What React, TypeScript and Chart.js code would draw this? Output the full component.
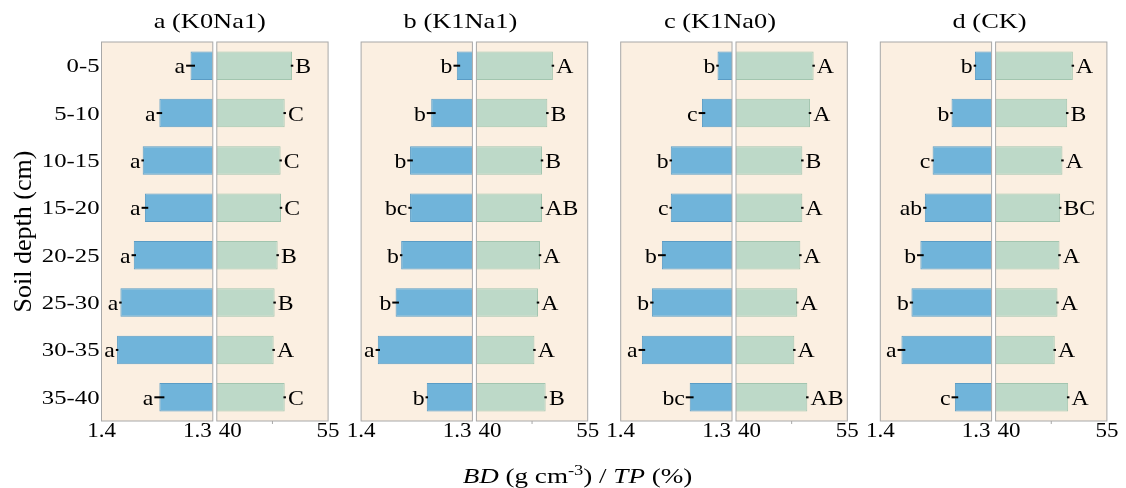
import React, { useEffect, useRef } from "react";
import { Chart, registerables } from "chart.js";

Chart.register(...registerables);

// ---------------- data ----------------
const depths = ["0-5", "5-10", "10-15", "15-20", "20-25", "25-30", "30-35", "35-40"];
const panelKeys = ["a", "b", "c", "d"];
const panelTitles = ["a (K0Na1)", "b (K1Na1)", "c (K1Na0)", "d (CK)"];

// Bulk density (g cm-3)
const bdA = [1.320, 1.348, 1.363, 1.361, 1.371, 1.383, 1.386, 1.348];
const bdB = [1.314, 1.337, 1.356, 1.356, 1.364, 1.369, 1.385, 1.341];
const bdC = [1.313, 1.327, 1.355, 1.355, 1.363, 1.372, 1.381, 1.338];
const bdD = [1.315, 1.336, 1.353, 1.360, 1.364, 1.372, 1.381, 1.333];
const bdSdA = [0.004, 0.0025, 0.001, 0.003, 0.002, 0.001, 0.001, 0.0045];
const bdSdB = [0.003, 0.004, 0.0025, 0.0015, 0.001, 0.003, 0.002, 0.001];
const bdSdC = [0.001, 0.003, 0.001, 0.001, 0.0035, 0.0015, 0.003, 0.0035];
const bdSdD = [0.001, 0.001, 0.001, 0.0015, 0.003, 0.0015, 0.0035, 0.003];
const bdLetA = ["a", "a", "a", "a", "a", "a", "a", "a"];
const bdLetB = ["b", "b", "b", "bc", "b", "b", "a", "b"];
const bdLetC = ["b", "c", "b", "c", "b", "b", "a", "bc"];
const bdLetD = ["b", "b", "c", "ab", "b", "b", "a", "c"];

// Total porosity (%)
const tpA = [50.14, 49.15, 48.60, 48.65, 48.20, 47.79, 47.66, 49.15];
const tpB = [50.31, 49.56, 48.84, 48.84, 48.57, 48.30, 47.82, 49.33];
const tpC = [50.46, 49.97, 48.94, 48.94, 48.67, 48.26, 47.86, 49.61];
const tpD = [50.41, 49.65, 49.01, 48.70, 48.61, 48.34, 47.97, 49.78];
const tpSdA = [0.10, 0.10, 0.08, 0.08, 0.10, 0.08, 0.08, 0.10];
const tpSdB = [0.08, 0.10, 0.08, 0.08, 0.08, 0.10, 0.08, 0.08];
const tpSdC = [0.08, 0.10, 0.08, 0.08, 0.08, 0.08, 0.08, 0.10];
const tpSdD = [0.08, 0.08, 0.08, 0.08, 0.08, 0.08, 0.08, 0.08];
const tpLetA = ["B", "C", "C", "C", "B", "B", "A", "C"];
const tpLetB = ["A", "B", "B", "AB", "A", "A", "A", "B"];
const tpLetC = ["A", "A", "B", "A", "A", "A", "A", "AB"];
const tpLetD = ["A", "B", "A", "BC", "A", "A", "A", "A"];

// axes
const bdRange = [1.3, 1.4];
const tpRange = [40, 55];
const bdTicks = [1.4, 1.3];
const tpTicks = [40, 55];
const tpMinorTicks = [47.5];

const bdSeries = [bdA, bdB, bdC, bdD];
const bdSds = [bdSdA, bdSdB, bdSdC, bdSdD];
const bdLets = [bdLetA, bdLetB, bdLetC, bdLetD];
const tpSeries = [tpA, tpB, tpC, tpD];
const tpSds = [tpSdA, tpSdB, tpSdC, tpSdD];
const tpLets = [tpLetA, tpLetB, tpLetC, tpLetD];

// ---------------- style ----------------
const W = 1126;
const H = 488;
const SERIF = "'Liberation Serif', 'Times New Roman', serif";
const BD_FILL = "#70B4DA";
const BD_EDGE = "#5A9CC5";
const TP_FILL = "#BDD9C8";
const TP_EDGE = "#A2C5AF";
const PANEL_BG = "#FBEFE1";
const PANEL_EDGE = "#A8A8A8";
const SUB_W = 111.3;
const INNER_GAP = 4;
const OUTER_GAP = 33;
const TITLE_SHIFT = [-5, -14, -14, -4];

function txt(ctx: CanvasRenderingContext2D, s: string, x: number, y: number, align: CanvasTextAlign, font: string, sx: number) {
  ctx.save();
  ctx.font = font;
  ctx.textAlign = align;
  ctx.textBaseline = "alphabetic";
  ctx.fillStyle = "#000";
  ctx.translate(x, y);
  ctx.scale(sx, 1);
  ctx.fillText(s, 0, 0);
  ctx.restore();
}

const decorPlugin = {
  id: "decor",
  beforeDatasetsDraw(chart: any) {
    const { ctx, chartArea } = chart;
    ctx.save();
    ctx.fillStyle = PANEL_BG;
    panelKeys.forEach((k) => {
      ["bd" + k, "tp" + k].forEach((id) => {
        const s = chart.scales[id];
        ctx.fillRect(s.left, chartArea.top, s.right - s.left, chartArea.bottom - chartArea.top);
      });
    });
    ctx.restore();
  },
  afterDatasetsDraw(chart: any) {
    const { ctx, chartArea } = chart;
    const { top, bottom, left } = chartArea;
    const yS = chart.scales.y;
    ctx.save();
    // panel borders
    ctx.strokeStyle = PANEL_EDGE;
    ctx.lineWidth = 1;
    panelKeys.forEach((k) => {
      ["bd" + k, "tp" + k].forEach((id) => {
        const s = chart.scales[id];
        ctx.strokeRect(s.left, top, s.right - s.left, bottom - top);
      });
      const tpS = chart.scales["tp" + k];
      tpMinorTicks.forEach((v) => {
        const x = tpS.getPixelForValue(v);
        ctx.beginPath();
        ctx.moveTo(x, bottom);
        ctx.lineTo(x, bottom + 3);
        ctx.stroke();
      });
    });

    // error bars + letters
    panelKeys.forEach((k, p) => {
      const bdS = chart.scales["bd" + k];
      const tpS = chart.scales["tp" + k];
      depths.forEach((_, i) => {
        const yc = yS.getPixelForValue(i);
        // BD
        let x1 = bdS.getPixelForValue(bdSeries[p][i] - bdSds[p][i]);
        let x2 = bdS.getPixelForValue(bdSeries[p][i] + bdSds[p][i]);
        let xl = Math.min(x1, x2), xr = Math.max(x1, x2);
        if (xr - xl < 2.5) { const m = (xl + xr) / 2; xl = m - 1.25; xr = m + 1.25; }
        ctx.strokeStyle = "#000";
        ctx.lineWidth = 2;
        ctx.beginPath();
        ctx.moveTo(xl, yc);
        ctx.lineTo(xr, yc);
        ctx.stroke();
        txt(ctx, bdLets[p][i], xl - 1, yc + 7.5, "right", `22px ${SERIF}`, 1.08);
        // TP
        x1 = tpS.getPixelForValue(tpSeries[p][i] - tpSds[p][i]);
        x2 = tpS.getPixelForValue(tpSeries[p][i] + tpSds[p][i]);
        xl = Math.min(x1, x2); xr = Math.max(x1, x2);
        if (xr - xl < 2.5) { const m = (xl + xr) / 2; xl = m - 1.25; xr = m + 1.25; }
        ctx.beginPath();
        ctx.moveTo(xl, yc);
        ctx.lineTo(xr, yc);
        ctx.stroke();
        txt(ctx, tpLets[p][i], xr + 2, yc + 7.5, "left", `22px ${SERIF}`, 1.08);
      });

      // x tick labels
      const tickFont = `20px ${SERIF}`;
      txt(ctx, String(bdTicks[0]), bdS.getPixelForValue(bdTicks[0]), 437, "center", tickFont, 1.15);
      txt(ctx, String(bdTicks[1]), bdS.getPixelForValue(bdTicks[1]) - 1, 437, "right", tickFont, 1.15);
      txt(ctx, String(tpTicks[0]), tpS.getPixelForValue(tpTicks[0]) + 2, 437, "left", tickFont, 1.15);
      txt(ctx, String(tpTicks[1]), tpS.getPixelForValue(tpTicks[1]), 437, "center", tickFont, 1.15);

      // panel titles
      const cx = (bdS.left + tpS.right) / 2 + TITLE_SHIFT[p];
      txt(ctx, panelTitles[p], cx, 28, "center", `22px ${SERIF}`, 1.2);
    });

    // y tick labels
    depths.forEach((d, i) => {
      const yc = yS.getPixelForValue(i);
      txt(ctx, d, left - 2, yc + 6.5, "right", `19px ${SERIF}`, 1.3);
    });

    // y title
    ctx.save();
    ctx.translate(31, (top + bottom) / 2);
    ctx.rotate(-Math.PI / 2);
    ctx.font = `26px ${SERIF}`;
    ctx.textAlign = "center";
    ctx.textBaseline = "alphabetic";
    ctx.fillStyle = "#000";
    ctx.fillText("Soil depth (cm)", 0, 0);
    ctx.restore();

    // x title: BD (g cm-3) / TP (%)
    const sz = 22;
    const sx = 1.23;
    const parts = [
      { t: "BD", f: `italic ${sz}px ${SERIF}`, dy: 0 },
      { t: " (g cm", f: `${sz}px ${SERIF}`, dy: 0 },
      { t: "-3", f: `${Math.round(sz * 0.7)}px ${SERIF}`, dy: -8 },
      { t: ") / ", f: `${sz}px ${SERIF}`, dy: 0 },
      { t: "TP", f: `italic ${sz}px ${SERIF}`, dy: 0 },
      { t: " (%)", f: `${sz}px ${SERIF}`, dy: 0 },
    ];
    let total = 0;
    const widths = parts.map((pt) => { ctx.font = pt.f; const w = ctx.measureText(pt.t).width * sx; total += w; return w; });
    let x = 577.5 - total / 2;
    parts.forEach((pt, i) => {
      txt(ctx, pt.t, x, 483 + pt.dy, "left", pt.f, sx);
      x += widths[i];
    });
    ctx.restore();
  },
};

function buildScales() {
  const scales: any = {
    y: {
      type: "category",
      position: "left",
      grid: { display: false },
      border: { display: false },
      ticks: { display: false },
      afterFit: (s: any) => { s.width = 101.5; },
    },
  };
  panelKeys.forEach((k, i) => {
    scales["bd" + k] = {
      type: "linear", axis: "x", position: "bottom", stack: "x", stackWeight: SUB_W,
      min: bdRange[0], max: bdRange[1], reverse: true, display: false,
    };
    scales["gi" + k] = {
      type: "linear", axis: "x", position: "bottom", stack: "x", stackWeight: INNER_GAP, display: false,
    };
    scales["tp" + k] = {
      type: "linear", axis: "x", position: "bottom", stack: "x", stackWeight: SUB_W,
      min: tpRange[0], max: tpRange[1], display: false,
    };
    if (i < panelKeys.length - 1) {
      scales["go" + k] = {
        type: "linear", axis: "x", position: "bottom", stack: "x", stackWeight: OUTER_GAP, display: false,
      };
    }
  });
  return scales;
}

function buildDatasets() {
  const ds: any[] = [];
  panelKeys.forEach((k, p) => {
    ds.push({
      label: "BD " + k,
      data: bdSeries[p],
      xAxisID: "bd" + k,
      yAxisID: "y",
      base: bdRange[0],
      backgroundColor: BD_FILL,
      borderColor: BD_EDGE,
      borderWidth: 1,
      barPercentage: 0.6,
      categoryPercentage: 1,
      grouped: false,
    });
    ds.push({
      label: "TP " + k,
      data: tpSeries[p],
      xAxisID: "tp" + k,
      yAxisID: "y",
      base: tpRange[0],
      backgroundColor: TP_FILL,
      borderColor: TP_EDGE,
      borderWidth: 1,
      barPercentage: 0.6,
      categoryPercentage: 1,
      grouped: false,
    });
  });
  return ds;
}

export default function App() {
  const ref = useRef<HTMLCanvasElement>(null);
  useEffect(() => {
    if (!ref.current) return;
    const chart = new Chart(ref.current, {
      type: "bar",
      data: { labels: depths, datasets: buildDatasets() },
      options: {
        indexAxis: "y",
        responsive: false,
        animation: false,
        events: [],
        layout: { padding: { left: 0, top: 42, right: W - 1106.9, bottom: H - 421 } },
        plugins: { legend: { display: false }, title: { display: false }, tooltip: { enabled: false } },
        scales: buildScales(),
      } as any,
      plugins: [decorPlugin],
    });
    return () => chart.destroy();
  }, []);
  return (
    <div style={{ position: "fixed", left: 0, top: 0, width: W, height: H, background: "#fff" }}>
      <canvas ref={ref} width={W} height={H} style={{ display: "block" }} />
    </div>
  );
}
